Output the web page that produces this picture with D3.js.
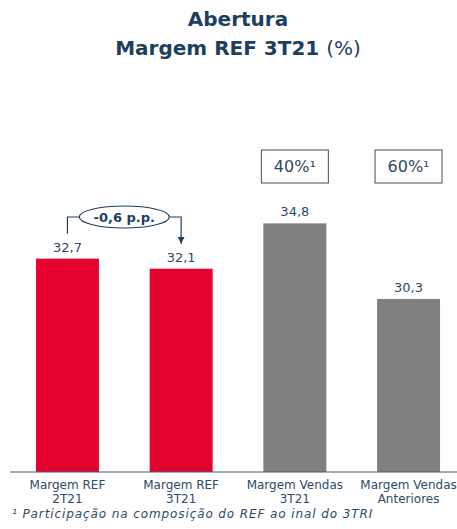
<!DOCTYPE html>
<html>
<head>
<meta charset="utf-8">
<script src="https://cdn.jsdelivr.net/npm/d3@7"></script>
<style>
  body { margin: 0; background: #fff; }
  svg { display: block; font-family: "DejaVu Sans", sans-serif; }
</style>
</head>
<body>
<div id="chart"></div>
<script>
// data
var categories = ["Margem REF|2T21", "Margem REF|3T21", "Margem Vendas|3T21", "Margem Vendas|Anteriores"];
var values = [32.7, 32.1, 34.8, 30.3];
var valueLabels = ["32,7", "32,1", "34,8", "30,3"];
var barColors = ["#e4032e", "#e4032e", "#808080", "#808080"];
var shareLabels = [null, null, "40%¹", "60%¹"];
var deltaLabel = "-0,6 p.p.";
var footnote = "¹ Participação na composição do REF ao inal do 3TRI";

var width = 457, height = 529;
var navy = "#1d3f5e";

var svg = d3.select("#chart")
  .append("svg")
    .attr("width", width)
    .attr("height", height);

//////////////////////// title
var title = svg.append("text")
  .attr("text-anchor", "middle")
  .attr("fill", navy)
  .style("font-size", "20px")
  .style("font-weight", "bold");
title.append("tspan").attr("x", 238).attr("y", 26).text("Abertura");
title.append("tspan").attr("x", 238).attr("y", 55).text("Margem REF 3T21 ")
  .append("tspan").style("font-weight", "normal").text("(%)");

//////////////////////// scales
var x = d3.scaleBand()
  .domain(categories)
  .range([10.6, 465.4])
  .paddingInner(0.446)
  .paddingOuter(0.223);

var y = d3.scaleLinear()
  .domain([20, 35])
  .range([472, 220]);

// bars
svg.selectAll(".bar")
  .data(values)
  .enter().append("rect")
    .attr("class", "bar")
    .attr("x", function(d, i) { return x(categories[i]); })
    .attr("y", function(d) { return y(d); })
    .attr("width", x.bandwidth())
    .attr("height", function(d) { return y(20) - y(d); })
    .attr("fill", function(d, i) { return barColors[i]; });

// value labels
svg.selectAll(".val")
  .data(values)
  .enter().append("text")
    .attr("class", "val")
    .attr("x", function(d, i) { return x(categories[i]) + x.bandwidth() / 2; })
    .attr("y", function(d) { return y(d) - 7; })
    .attr("text-anchor", "middle")
    .attr("fill", "#2e4a63")
    .style("font-size", "13px")
    .text(function(d, i) { return valueLabels[i]; });

// x axis
var xAxis = svg.append("g")
  .attr("transform", "translate(0,472)")
  .call(d3.axisBottom(x).tickSize(0).tickFormat(""));
xAxis.select(".domain").attr("d", "M10,0H457").attr("stroke", "#4b5d6e").attr("stroke-width", 1.2);

// category labels
categories.forEach(function(c, i) {
  var t = svg.append("text")
    .attr("text-anchor", "middle")
    .attr("fill", "#2e4a66")
    .style("font-size", "12px");
  c.split("|").forEach(function(line, j) {
    t.append("tspan")
      .attr("x", x(c) + x.bandwidth() / 2)
      .attr("y", 489 + j * 14)
      .text(line);
  });
});

// share boxes
shareLabels.forEach(function(s, i) {
  if (!s) return;
  var cx = x(categories[i]) + x.bandwidth() / 2;
  svg.append("rect")
    .attr("x", cx - 33.5)
    .attr("y", 150)
    .attr("width", 67)
    .attr("height", 33)
    .attr("fill", "#fff")
    .attr("stroke", "#3a4f63")
    .attr("stroke-width", 1);
  svg.append("text")
    .attr("x", cx)
    .attr("y", 172)
    .attr("text-anchor", "middle")
    .attr("fill", "#2e4a63")
    .style("font-size", "16px")
    .text(s);
});

// delta annotation
var x1 = x(categories[0]) + x.bandwidth() / 2;
var x2 = x(categories[1]) + x.bandwidth() / 2;
var ecx = (x1 + x2) / 2, ecy = 217, erx = 45, ery = 11;

svg.append("defs").append("marker")
  .attr("id", "arrow")
  .attr("viewBox", "0 0 10 10")
  .attr("refX", 10).attr("refY", 5)
  .attr("markerWidth", 6).attr("markerHeight", 6)
  .attr("orient", "auto")
  .append("path")
    .attr("d", "M0,0L10,5L0,10z")
    .attr("fill", navy);

svg.append("path")
  .attr("d", "M" + x1 + "," + (y(values[0]) - 25) + "V" + ecy + "H" + (ecx - erx))
  .attr("fill", "none")
  .attr("stroke", navy)
  .attr("stroke-width", 1.2);

svg.append("path")
  .attr("d", "M" + (ecx + erx) + "," + ecy + "H" + x2 + "V" + (y(values[1]) - 25))
  .attr("fill", "none")
  .attr("stroke", navy)
  .attr("stroke-width", 1.2)
  .attr("marker-end", "url(#arrow)");

svg.append("ellipse")
  .attr("cx", ecx).attr("cy", ecy)
  .attr("rx", erx).attr("ry", ery)
  .attr("fill", "#fff")
  .attr("stroke", navy)
  .attr("stroke-width", 1.2);

svg.append("text")
  .attr("x", ecx)
  .attr("y", ecy + 4.5)
  .attr("text-anchor", "middle")
  .attr("fill", navy)
  .style("font-size", "13px")
  .style("font-weight", "bold")
  .text(deltaLabel);

// footnote
svg.append("text")
  .attr("x", 12)
  .attr("y", 518)
  .attr("fill", "#2e4a66")
  .style("font-size", "12px")
  .style("letter-spacing", "0.9px")
  .style("font-style", "italic")
  .text(footnote);
</script>
</body>
</html>
